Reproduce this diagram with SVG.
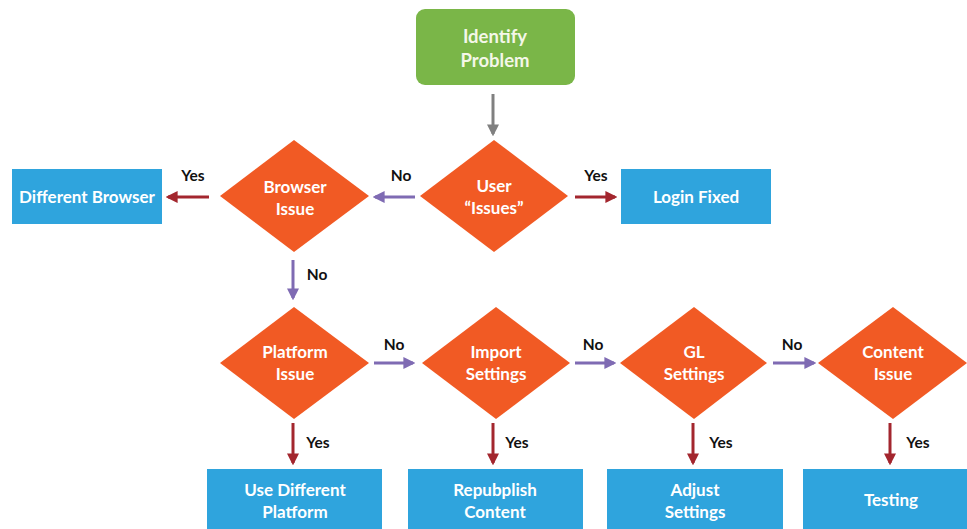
<svg xmlns="http://www.w3.org/2000/svg" width="967" height="529" viewBox="0 0 967 529">
<defs>
<marker id="hr" markerWidth="4" markerHeight="4" refX="3.2" refY="2" orient="auto" markerUnits="strokeWidth"><path d="M0,0 L4,2 L0,4 Z" fill="#a3262e"/></marker>
<marker id="hp" markerWidth="4" markerHeight="4" refX="3.2" refY="2" orient="auto" markerUnits="strokeWidth"><path d="M0,0 L4,2 L0,4 Z" fill="#7f6bb3"/></marker>
<marker id="hg" markerWidth="4" markerHeight="4" refX="3.2" refY="2" orient="auto" markerUnits="strokeWidth"><path d="M0,0 L4,2 L0,4 Z" fill="#808080"/></marker>
</defs>
<style>
.t{font-family:Lato,"Liberation Sans",sans-serif;font-weight:bold;font-size:17px;fill:#fff;text-anchor:middle}
.big{font-size:18.5px;fill:#f4f7e8}
.l{font-family:Lato,"Liberation Sans",sans-serif;font-weight:bold;font-size:15.5px;fill:#111;text-anchor:middle}
.d{fill:#f15a24}
.b{fill:#2fa4dd}
.r{stroke:#a3262e;stroke-width:3;fill:none;marker-end:url(#hr)}
.p{stroke:#7f6bb3;stroke-width:3;fill:none;marker-end:url(#hp)}
.g{stroke:#808080;stroke-width:3;fill:none;marker-end:url(#hg)}
</style>
<rect width="967" height="529" fill="#fff"/>
<g id="identify"><rect x="416" y="9" width="159" height="76" rx="9" fill="#7ab648"/><text class="t big" x="495" y="43">Identify</text><text class="t big" x="495" y="67">Problem</text></g>
<g id="user"><polygon class="d" points="494,140 568,196 494,252 420,196"/><text class="t" x="494" y="192">User</text><text class="t" x="494" y="214">“Issues”</text></g>
<g id="browser"><polygon class="d" points="294,140 369,196 294,252 220,196"/><text class="t" x="295" y="193">Browser</text><text class="t" x="295" y="215">Issue</text></g>
<g id="diffbrowser"><rect class="b" x="12" y="169" width="150" height="55"/><text class="t" x="87" y="203">Different Browser</text></g>
<g id="login"><rect class="b" x="621" y="169" width="150" height="55"/><text class="t" x="696" y="203">Login Fixed</text></g>
<g id="platform"><polygon class="d" points="294,307 369,363 294,419 220,363"/><text class="t" x="295" y="358">Platform</text><text class="t" x="295" y="380">Issue</text></g>
<g id="import"><polygon class="d" points="496,307 570,363 496,419 422,363"/><text class="t" x="496" y="358">Import</text><text class="t" x="496" y="380">Settings</text></g>
<g id="gl"><polygon class="d" points="694,307 767,363 694,419 620,363"/><text class="t" x="694" y="358">GL</text><text class="t" x="694" y="380">Settings</text></g>
<g id="content"><polygon class="d" points="893,307 967,363 893,419 818,363"/><text class="t" x="893" y="358">Content</text><text class="t" x="893" y="380">Issue</text></g>
<g id="useplatform"><rect class="b" x="207" y="469" width="175" height="65"/><text class="t" x="295" y="496">Use Different</text><text class="t" x="295" y="518">Platform</text></g>
<g id="republish"><rect class="b" x="408" y="469" width="175" height="65"/><text class="t" x="495" y="496">Repubplish</text><text class="t" x="495" y="518">Content</text></g>
<g id="adjust"><rect class="b" x="607" y="469" width="176" height="65"/><text class="t" x="695" y="496">Adjust</text><text class="t" x="695" y="518">Settings</text></g>
<g id="testing"><rect class="b" x="803" y="469" width="170" height="65"/><text class="t" x="891" y="506">Testing</text></g>
<g id="connectors">
<line class="g" x1="493" y1="94" x2="493" y2="134"/>
<line class="p" x1="415" y1="197" x2="375" y2="197"/>
<line class="r" x1="209" y1="197" x2="168" y2="197"/>
<line class="r" x1="575" y1="197" x2="615" y2="197"/>
<line class="p" x1="293" y1="260" x2="293" y2="298"/>
<line class="p" x1="374" y1="363" x2="413" y2="363"/>
<line class="p" x1="575" y1="363" x2="614" y2="363"/>
<line class="p" x1="773" y1="363" x2="814" y2="363"/>
<line class="r" x1="293" y1="423" x2="293" y2="463"/>
<line class="r" x1="493" y1="423" x2="493" y2="463"/>
<line class="r" x1="693" y1="423" x2="693" y2="463"/>
<line class="r" x1="890" y1="423" x2="890" y2="463"/>
<text class="l" x="193" y="181">Yes</text>
<text class="l" x="401" y="181">No</text>
<text class="l" x="596" y="181">Yes</text>
<text class="l" x="317" y="280">No</text>
<text class="l" x="394" y="350">No</text>
<text class="l" x="593" y="350">No</text>
<text class="l" x="792" y="350">No</text>
<text class="l" x="318" y="448">Yes</text>
<text class="l" x="517" y="448">Yes</text>
<text class="l" x="721" y="448">Yes</text>
<text class="l" x="918" y="448">Yes</text>
</g>
</svg>
